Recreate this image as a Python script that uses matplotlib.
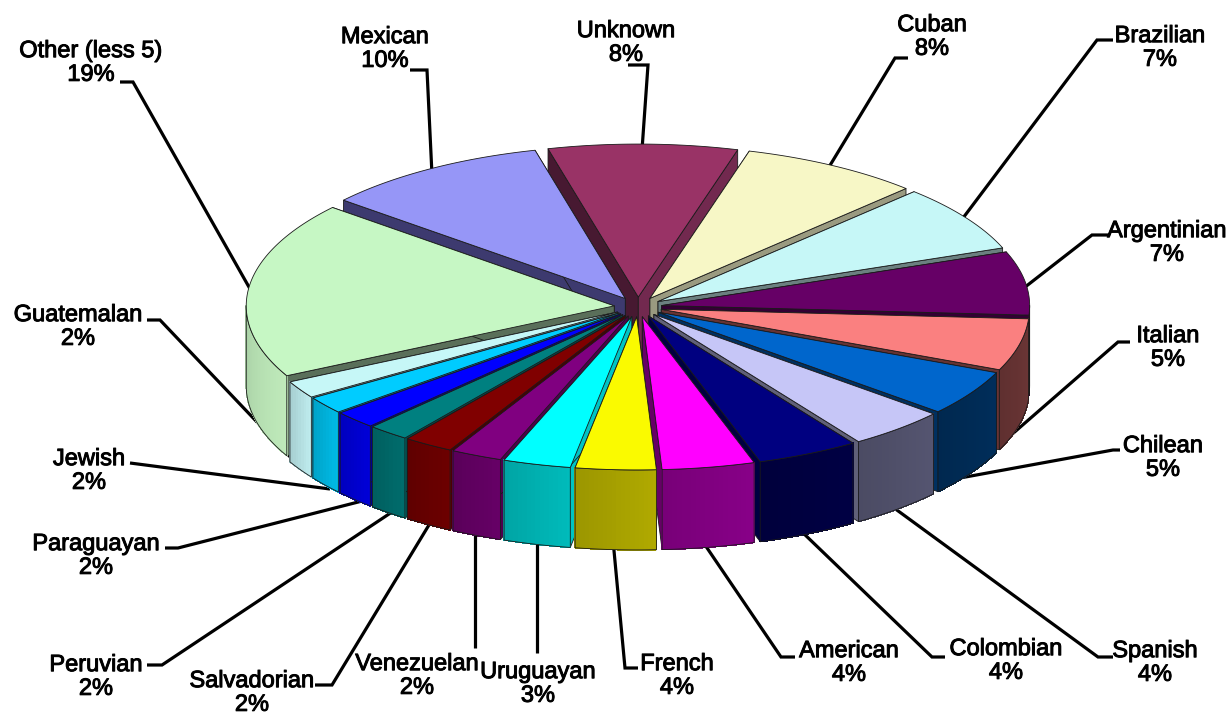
import numpy as np
import matplotlib
matplotlib.use("Agg")
import matplotlib.pyplot as plt
import matplotlib.patheffects as pe
from matplotlib.colors import to_rgb

names = ["Unknown","Cuban","Brazilian","Argentinian","Italian","Chilean","Spanish","Colombian",
         "American","French","Uruguayan","Venezuelan","Salvadorian","Peruvian","Paraguayan",
         "Jewish","Guatemalan","Other (less 5)","Mexican"]
values = [8.3,7.9,7.05,6.7,5.47,4.8,4.36,4.47,4.06,3.53,2.97,2.25,2.19,1.83,1.89,1.83,1.83,18.67,9.94]

top_colors = ["#993366","#F7F7C6","#C6F7F7","#660066","#FA8080","#0066CC","#C6C6F7","#000080",
              "#FF00FF","#FAFA00","#00FFFF","#800080","#800000","#008080","#0000FF","#00CCFF",
              "#C6F7F7","#C6F7C4","#9696F7"]
wall_colors = ["#5A1F3C","#9A9A7A","#7A9A9A","#3D003D","#663333","#002B55","#50506A","#000040",
               "#800080","#A6A000","#00B0B0","#600060","#660000","#006666","#0000CC","#00AFD8",
               "#B3DEE0","#B4DDB0","#4A4A80"]
face_colors = ["#72294F","#9A9A80","#6B8080","#330033","#663333","#003060","#606078","#000040",
               "#660066","#8A8600","#00C4C4","#4D004D","#4D0000","#004D4D","#000099","#007A99",
               "#7A9999","#5A6F5A","#3D3A6F"]

label_pos = [(626,43),(932,37),(1160,48),(1167,243),(1168,348),(1163,458),(1155,663),(1006,661),
             (849,663),(677,676),(538,684),(417,676),(252,693),(96,677),(96,556),(89,471),(78,327),
             (91,63),(385,49)]
leaders = [[(628,65),(648,65),(642,150)],[(908,58),(895,58),(829,167)],[(1113,40),(1097,40),(960,222)],
           [(1110,235),(1092,235),(1020,291)],[(1130,342),(1118,342),(1010,436)],[(1120,450),(1113,450),(960,478)],
           [(1113,657),(1098,657),(890,505)],[(945,657),(932,657),(800,530)],[(795,657),(781,657),(703,542)],
           [(638,668),(625,668),(613,540)],[(537,653),(537,540)],[(475,648),(475,530)],
           [(315,685),(332,685),(435,515)],[(147,665),(162,665),(395,510)],[(165,548),(178,548),(370,499)],
           [(130,463),(330,489)],[(147,320),(160,320),(295,462)],[(120,82),(133,82),(258,303)],
           [(410,70),(427,70),(432,175)]]

CX, CY, RX, RY, DEPTH, EXPLODE, START = 638, 307, 368, 153, 80, 0.065, -14.2

fig = plt.figure(figsize=(12.32,7.16), dpi=100)
ax = fig.add_axes([0,0,1,1])
ax.set_xlim(0,1232); ax.set_ylim(716,0); ax.axis("off")
plt.rcParams["font.family"] = ["Liberation Sans","DejaVu Sans"]

vals = np.array(values,float)
angles = START + np.concatenate([[0],np.cumsum(vals)])/vals.sum()*360

def proj(theta, r, ox, oy):
    t = np.radians(theta)
    return ox + RX*r*np.sin(t), oy - RY*r*np.cos(t)

def shade(c,f):
    return tuple(min(1,x*f) for x in to_rgb(c))

order = sorted(range(len(vals)), key=lambda i:-np.cos(np.radians((angles[i]+angles[i+1])/2)))
z = 2
EDGE = dict(edgecolor="#1a1a1a", linewidth=0.6, joinstyle="round")
for i in order:
    a0,a1 = angles[i],angles[i+1]
    mid = (a0+a1)/2
    ox,oy = proj(mid,EXPLODE,CX,CY)
    th = np.linspace(a0,a1,max(4,int((a1-a0)*1.5)))
    xs,ys = proj(th,1,ox,oy)
    for a,xe,ye in ((a0,xs[0],ys[0]),(a1,xs[-1],ys[-1])):
        col = face_colors[i]
        if np.cos(np.radians(mid))>0.9 and a==a0:
            col = shade(col,0.62)
        ax.fill([ox,xe,xe,ox],[oy,ye,ye+DEPTH,oy+DEPTH],facecolor=col,zorder=z,**EDGE)
    z += 1
    lo,hi = max(a0,90),min(a1,270)
    if hi>lo:
        tw = np.linspace(lo,hi,max(4,int((hi-lo)*1.5)))
        xw,yw = proj(tw,1,ox,oy)
        n = len(tw)-1
        for k in range(n):
            f = 1.06-0.12*k/max(n-1,1)
            ax.fill([xw[k],xw[k+1],xw[k+1],xw[k]],[yw[k],yw[k+1],yw[k+1]+DEPTH,yw[k]+DEPTH],
                    facecolor=shade(wall_colors[i],f),edgecolor=shade(wall_colors[i],f),
                    linewidth=0.4,antialiased=False,zorder=z)
        ax.fill(np.r_[xw,xw[::-1]],np.r_[yw,yw[::-1]+DEPTH],facecolor="none",zorder=z,**EDGE)
    z += 1
    ax.fill(np.r_[ox,xs],np.r_[oy,ys],facecolor=top_colors[i],zorder=z,**EDGE)
    z += 1

for i,(nm,v) in enumerate(zip(names,values)):
    px,py = zip(*leaders[i])
    ax.plot(px,py,color="black",lw=2.3,solid_joinstyle="miter",solid_capstyle="butt",zorder=1)
    x,y = label_pos[i]
    ax.text(x,y,f"{nm}\n{round(v)}%",ha="center",va="center",fontsize=17,linespacing=1.1,
            color="black",zorder=200,path_effects=[pe.withStroke(linewidth=0.7,foreground="black")])

fig.savefig("out.png",dpi=100,facecolor="white")
